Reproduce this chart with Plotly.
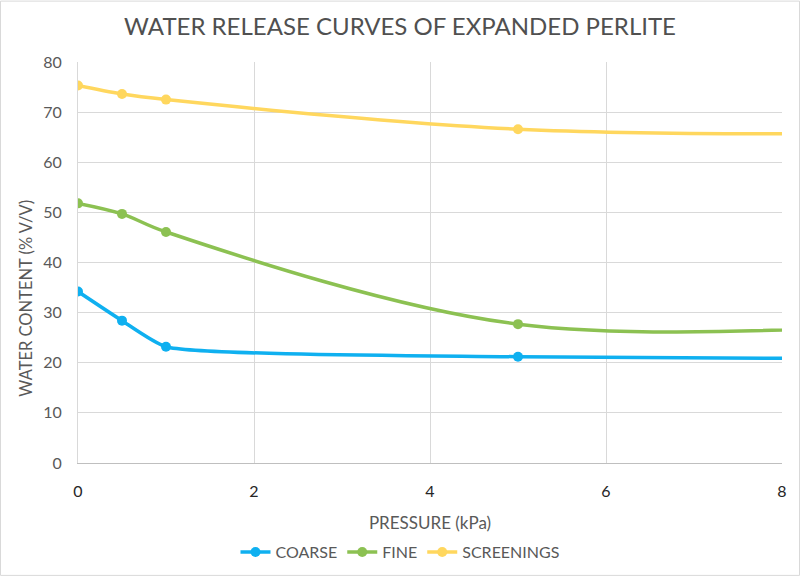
import plotly.graph_objects as go

pressure = [0, 0.5, 1, 5, 10]
coarse = [34.2, 28.4, 23.2, 21.2, 20.7]
fine = [51.8, 49.7, 46.1, 27.7, 28.4]
screenings = [75.3, 73.6, 72.5, 66.6, 65.8]

series = [
    ("COARSE", coarse, "#0FB0F0", 0.5),
    ("FINE", fine, "#8CC152", 1.0),
    ("SCREENINGS", screenings, "#FFD75E", 1.0),
]

fig = go.Figure()
for name, vals, col, sm in series:
    fig.add_trace(go.Scatter(
        x=pressure, y=vals, name=name, mode="lines+markers",
        line=dict(color=col, width=3.5, shape="spline", smoothing=sm),
        marker=dict(color=col, size=10),
        cliponaxis=True,
    ))

fnt = "Lato, Carlito, 'Open Sans', sans-serif"
PL, PT, PW, PH = 78, 62, 704, 405
fig.update_layout(
    width=800, height=581,
    margin=dict(l=PL, r=800 - PL - PW, t=PT, b=581 - PT - PH),
    paper_bgcolor="white", plot_bgcolor="white",
    font=dict(family=fnt, color="#595959"),
    title=dict(text="WATER RELEASE CURVES OF EXPANDED PERLITE",
               x=0.5, xanchor="center", y=1 - 27 / 581, yanchor="middle",
               font=dict(size=24, color="#505050", family=fnt)),
    showlegend=True,
    legend=dict(orientation="h", x=(400 - PL) / PW, xanchor="center",
                y=(PT + PH - 557) / PH, yanchor="middle",
                font=dict(size=16, color="#595959"), itemwidth=30,
                tracegroupgap=0),
    xaxis=dict(
        range=[0, 8], dtick=2, tick0=0,
        showgrid=True, gridcolor="#D9D9D9", gridwidth=1,
        showline=True, linecolor="#BFBFBF", linewidth=1,
        zeroline=False, ticks="", ticklabelstandoff=14,
        tickfont=dict(size=16, color="#262626"),
        title=dict(text="PRESSURE (kPa)", font=dict(size=17, color="#595959"), standoff=17),
    ),
    yaxis=dict(
        range=[0, 80], dtick=10,
        showgrid=True, gridcolor="#D9D9D9", gridwidth=1,
        showline=True, linecolor="#D9D9D9", linewidth=1,
        zeroline=False, ticks="", ticklabelstandoff=12,
        tickfont=dict(size=16, color="#595959"),
    ),
)

fig.add_annotation(text="WATER CONTENT (% V/V)", textangle=-90,
                   xref="paper", yref="paper",
                   x=(26 - PL) / PW, y=(PT + PH - 301) / PH,
                   xanchor="center", yanchor="middle", showarrow=False,
                   font=dict(size=16.5, color="#595959", family=fnt))

fig.add_shape(type="rect", xref="paper", yref="paper",
              x0=(0.5 - PL) / PW, x1=(799.5 - PL) / PW,
              y0=(PT + PH - 580.5) / PH, y1=(PT + PH - 0.5) / PH,
              line=dict(color="#D9D9D9", width=1), fillcolor="rgba(0,0,0,0)", layer="below")

fig.write_html("out.html")
